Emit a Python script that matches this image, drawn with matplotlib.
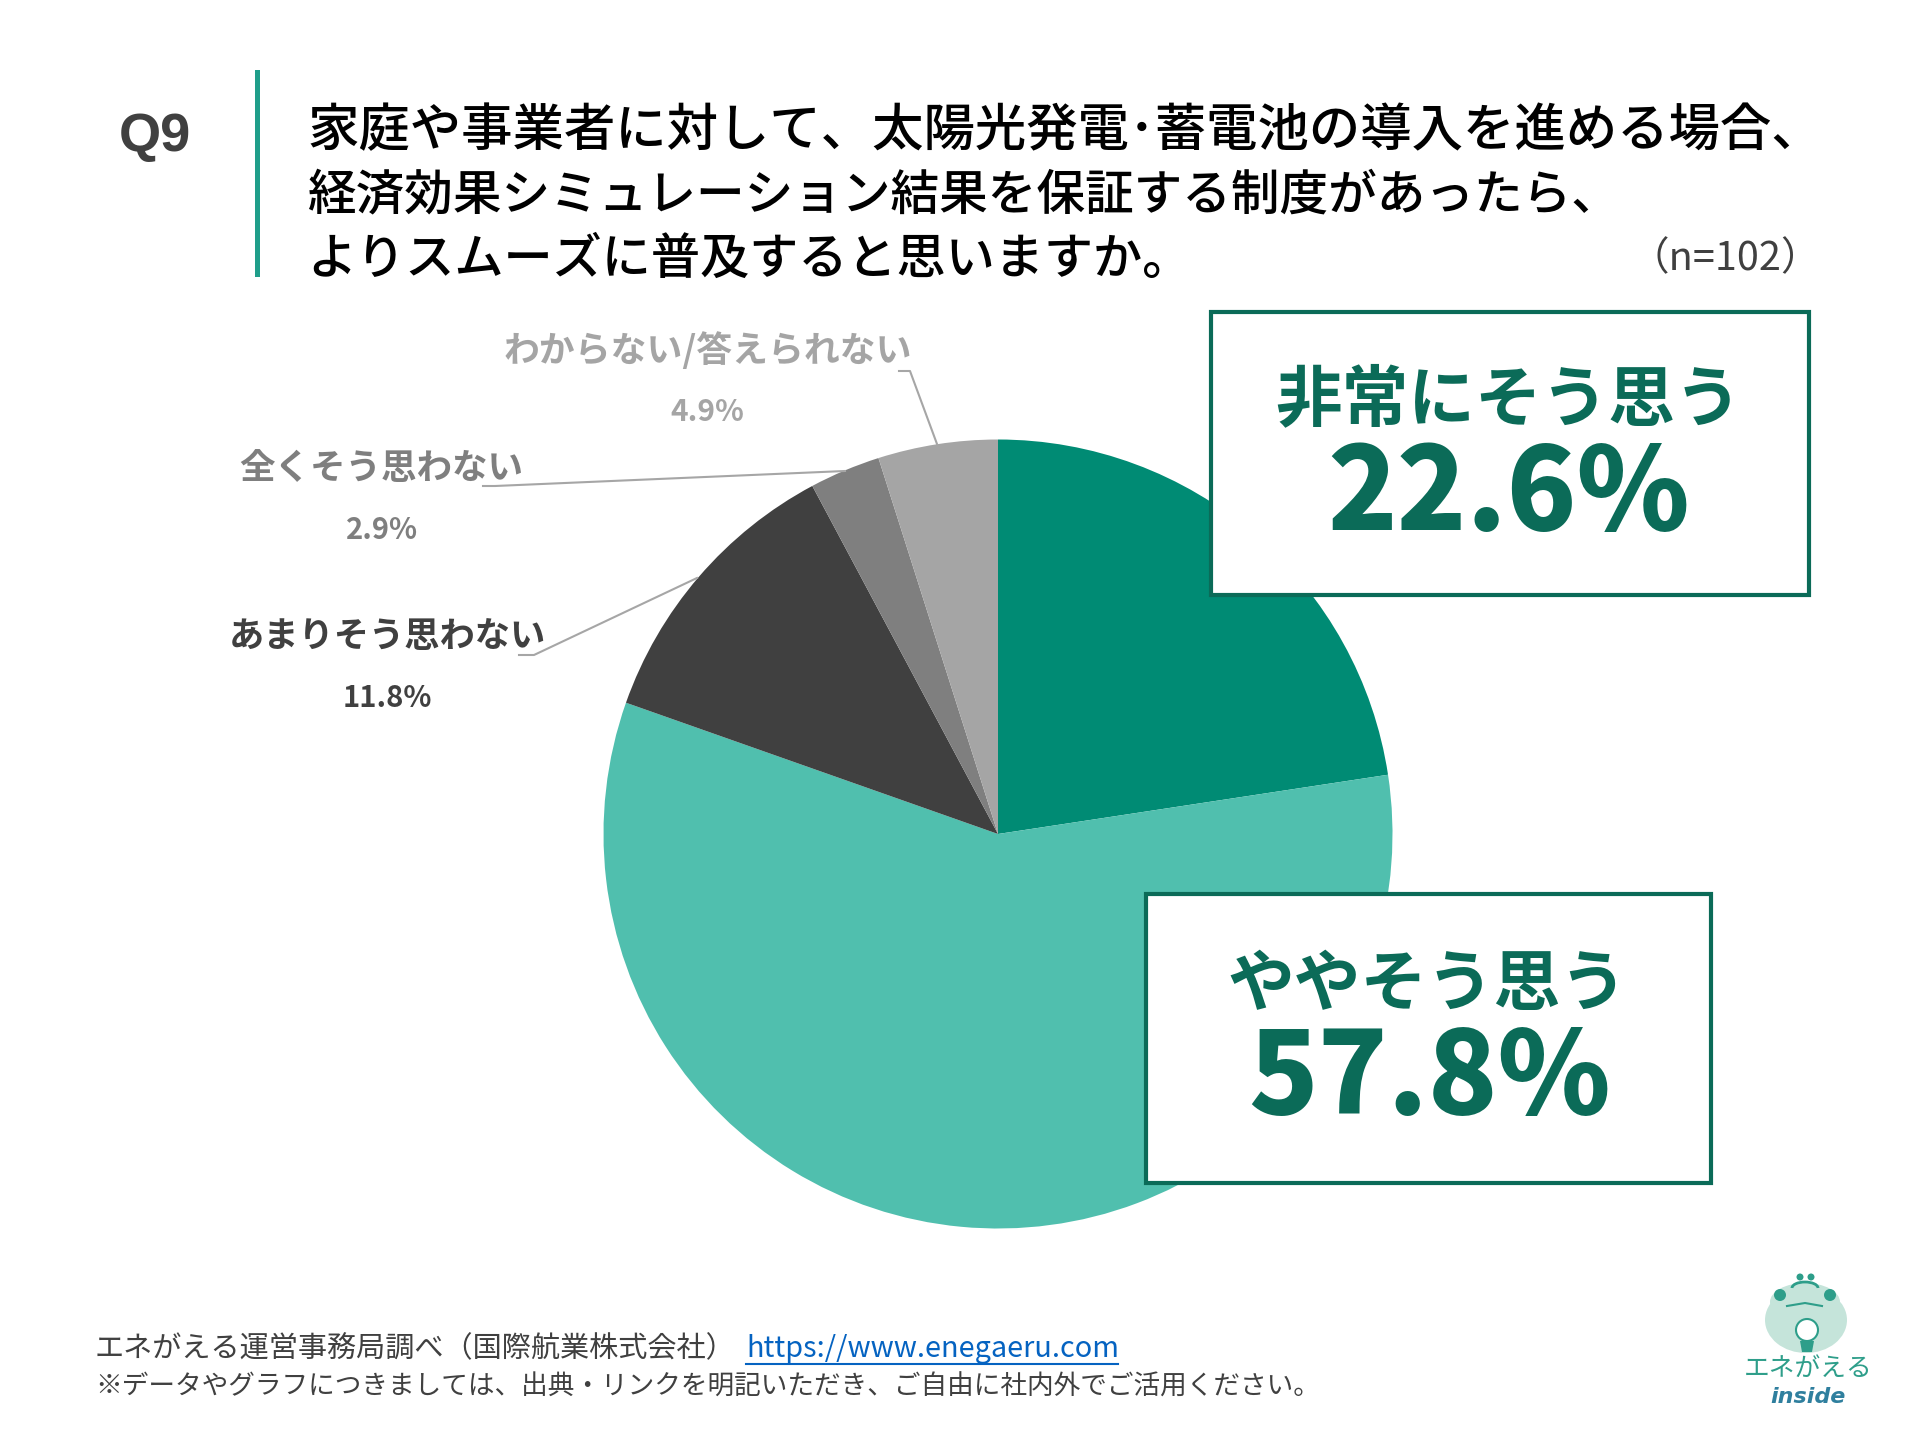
import matplotlib
matplotlib.use("Agg")
import matplotlib.pyplot as plt
from matplotlib.patches import Rectangle, Circle, Ellipse, Polygon, Arc

plt.rcParams["font.family"] = ["Noto Sans CJK JP", "DejaVu Sans"]

# data
categories = ["非常にそう思う", "ややそう思う", "あまりそう思わない", "全くそう思わない", "わからない/答えられない"]
values = [22.6, 57.8, 11.8, 2.9, 4.9]
colors = ["#008B74", "#50BFAE", "#404040", "#7F7F7F", "#A5A5A5"]
title_lines = ["家庭や事業者に対して、太陽光発電･蓄電池の導入を進める場合、",
               "経済効果シミュレーション結果を保証する制度があったら、",
               "よりスムーズに普及すると思いますか。"]

W, H = 1920, 1440
fig = plt.figure(figsize=(19.2, 14.4), dpi=100)
ax = fig.add_axes([0, 0, 1, 1])


def Y(py):
    # pixel from top -> axes y
    return H - py


ax.pie(values, colors=colors, startangle=90, counterclock=False,
       center=(998, Y(834)), radius=394.5, wedgeprops={"linewidth": 0})
ax.set_xlim(0, W)
ax.set_ylim(0, H)
ax.set_aspect("auto")
ax.axis("off")

# header
ax.text(155, Y(137), "Q9", fontsize=39, fontweight="bold", color="#404040",
        family=["Liberation Sans"], ha="center", va="center")
ax.add_patch(Rectangle((255, Y(277)), 5, 207, fc="#1F9E8A", ec="none"))
for line, py, fs in zip(title_lines, [131, 195, 260], [37, 35, 35.4]):
    ax.text(307, Y(py), line, fontsize=fs, color="black", fontweight="medium",
            ha="left", va="center")
ax.text(1821, Y(259), "（n=102）", fontsize=28.5, color="#404040", ha="right", va="center")

# small labels
ax.text(708, Y(351), categories[4], fontsize=25.8, fontweight="bold", color="#A5A5A5", ha="center", va="center")
ax.text(707, Y(412), f"{values[4]}%", fontsize=21.5, fontweight="bold", color="#A5A5A5", ha="center", va="center")
ax.text(381, Y(469), categories[3], fontsize=25.6, fontweight="bold", color="#7F7F7F", ha="center", va="center")
ax.text(382, Y(530), f"{values[3]}%", fontsize=21, fontweight="bold", color="#7F7F7F", ha="center", va="center")
ax.text(387, Y(637), categories[2], fontsize=25.4, fontweight="bold", color="#404040", ha="center", va="center")
ax.text(387, Y(698), f"{values[2]}%", fontsize=21, fontweight="bold", color="#404040", ha="center", va="center")

# leader lines
ax.plot([899, 910, 937], [Y(371), Y(371), Y(444)], color="#A6A6A6", lw=1.5)
ax.plot([483, 495, 845], [Y(486), Y(486), Y(471)], color="#A6A6A6", lw=1.5)
ax.plot([519, 534, 697], [Y(655), Y(655), Y(578)], color="#A6A6A6", lw=1.5)

# callout boxes
for (x0, y0, x1, y1), name, val, cx_name, cx_val, y_name, y_val in [
        ((1211, 312, 1809, 595), categories[0], values[0], 1508, 1509, 401, 496),
        ((1146, 894, 1711, 1183), categories[1], values[1], 1427, 1429, 985, 1080)]:
    ax.add_patch(Rectangle((x0, Y(y1)), x1 - x0, y1 - y0, fc="white", ec="#0B6B58", lw=3, zorder=5))
    ax.text(cx_name, Y(y_name), name, fontsize=48, fontweight="bold", color="#0B6B58", ha="center", va="center", zorder=6)
    ax.text(cx_val, Y(y_val), f"{val}%", fontsize=82.5, fontweight="black", color="#0B6B58", ha="center", va="center", zorder=6)

# footer
ax.text(95, Y(1349), "エネがえる運営事務局調べ（国際航業株式会社）", fontsize=21, color="#404040", ha="left", va="center")
ax.text(746, Y(1349), "https://www.enegaeru.com", fontsize=20.8, color="#0563C1", ha="left", va="center")
ax.plot([746, 1118], [Y(1364), Y(1364)], color="#0563C1", lw=1.5)
ax.text(95, Y(1387), "※データやグラフにつきましては、出典・リンクを明記いただき、ご自由に社内外でご活用ください。",
        fontsize=19.2, color="#404040", ha="left", va="center")

# logo
logo_green = "#2E9E8A"
ax.add_patch(Ellipse((1806, Y(1320)), 82, 66, fc="#C5E4DA", ec="none"))
ax.add_patch(Ellipse((1805, Y(1302)), 70, 38, fc="#C5E4DA", ec="none"))
ax.add_patch(Circle((1780, Y(1295)), 6, fc=logo_green, ec="none"))
ax.add_patch(Circle((1830, Y(1295)), 6, fc=logo_green, ec="none"))
ax.add_patch(Circle((1800, Y(1277)), 3.5, fc=logo_green, ec="none"))
ax.add_patch(Circle((1811, Y(1277)), 3.5, fc=logo_green, ec="none"))
ax.add_patch(Arc((1805, Y(1288)), 26, 12, theta1=0, theta2=180, color=logo_green, lw=2))
ax.plot([1787, 1805, 1822], [Y(1306), Y(1303), Y(1306)], color=logo_green, lw=1.5)
ax.add_patch(Circle((1807, Y(1330)), 11, fc="white", ec=logo_green, lw=1.5))
ax.add_patch(Polygon([(1800, Y(1341)), (1814, Y(1341)), (1812, Y(1352)), (1802, Y(1352))], fc=logo_green, ec="none"))
ax.text(1808, Y(1369), "エネがえる", fontsize=18.5, color=logo_green, ha="center", va="center")
ax.text(1808, Y(1397), "inside", fontsize=16, color="#2F7F9E", fontweight="bold", style="italic",
        family=["DejaVu Sans"], ha="center", va="center")

fig.savefig("out.png", dpi=100, facecolor="white")
